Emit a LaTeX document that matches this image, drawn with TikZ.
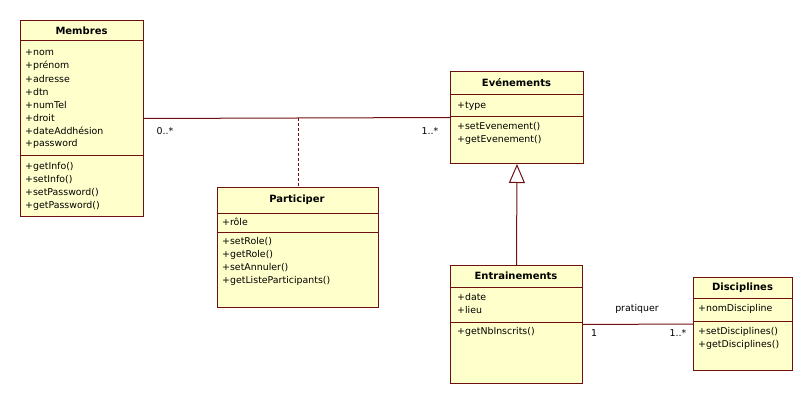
\documentclass[tikz,border=0pt]{standalone}
\usepackage{fontspec}
\setmainfont{DejaVu Sans}
\usepackage{tikz}
\usetikzlibrary{calc,positioning,arrows.meta}
\definecolor{bordeUml}{RGB}{110,16,16}
\definecolor{fondUml}{RGB}{255,255,204}

\tikzset{
  classbox/.style={draw=bordeUml, fill=fondUml, line width=1pt, anchor=north west, inner sep=0pt},
  classline/.style={draw=bordeUml, line width=1pt},
  classtitle/.style={font=\fontsize{10}{12}\selectfont\bfseries, inner sep=0pt},
  member/.style={font=\fontsize{9.4}{11}\selectfont, anchor=west, inner sep=0pt},
  mult/.style={font=\fontsize{9.4}{11}\selectfont, inner sep=0pt},
  assoc/.style={draw=bordeUml, line width=1pt}
}

\begin{document}
\begin{tikzpicture}[x=1pt, y=-1pt]
  \useasboundingbox (0,0) rectangle (812,404);
  % Membres
  \node[classbox, minimum width=123pt, minimum height=196pt] (membres) at (20,20) {};
  \draw[classline] (membres.west |- 0,41) -- (membres.east |- 0,41);
  \draw[classline] (membres.west |- 0,155) -- (membres.east |- 0,155);
  \node[classtitle] (membres-t) at (81.5,30.5) {Membres};
  \foreach \t [count=\i] in {+nom,+prénom,+adresse,+dtn,+numTel,+droit,+dateAddhésion,+password}
    \node[member] (membres-a\i) at (25,40+13*\i) {\t};
  \foreach \t [count=\i] in {+getInfo(),+setInfo(),+setPassword(),+getPassword()}
    \node[member] (membres-m\i) at (25,154+13*\i) {\t};
  % Participer
  \node[classbox, minimum width=161pt, minimum height=120pt] (participer) at (216.5,187) {};
  \draw[classline] (participer.west |- 0,213) -- (participer.east |- 0,213);
  \draw[classline] (participer.west |- 0,232) -- (participer.east |- 0,232);
  \node[classtitle] (participer-t) at (297,200) {Participer};
  \node[member] (participer-a1) at (222,222) {+rôle};
  \foreach \t [count=\i] in {+setRole(),+getRole(),+setAnnuler(),+getListeParticipants()}
    \node[member] (participer-m\i) at (222,229+13*\i) {\t};
  % Evenements
  \node[classbox, minimum width=133pt, minimum height=92pt] (evenements) at (450,71) {};
  \draw[classline] (evenements.west |- 0,95) -- (evenements.east |- 0,95);
  \draw[classline] (evenements.west |- 0,117) -- (evenements.east |- 0,117);
  \node[classtitle] (evenements-t) at (516.5,83) {Evénements};
  \node[member] (evenements-a1) at (457,106) {+type};
  \foreach \t [count=\i] in {+setEvenement(),+getEvenement()}
    \node[member] (evenements-m\i) at (457,114+13*\i) {\t};
  % Entrainements
  \node[classbox, minimum width=132pt, minimum height=118pt] (entrainements) at (450,265) {};
  \draw[classline] (entrainements.west |- 0,287) -- (entrainements.east |- 0,287);
  \draw[classline] (entrainements.west |- 0,322) -- (entrainements.east |- 0,322);
  \node[classtitle] (entrainements-t) at (516,276) {Entrainements};
  \foreach \t [count=\i] in {+date,+lieu}
    \node[member] (entrainements-a\i) at (457,284+13*\i) {\t};
  \node[member] (entrainements-m1) at (457,332) {+getNbInscrits()};
  % Disciplines
  \node[classbox, minimum width=99pt, minimum height=93pt] (disciplines) at (693,277) {};
  \draw[classline] (disciplines.west |- 0,298) -- (disciplines.east |- 0,298);
  \draw[classline] (disciplines.west |- 0,321) -- (disciplines.east |- 0,321);
  \node[classtitle] (disciplines-t) at (742.5,287.5) {Disciplines};
  \node[member] (disciplines-a1) at (698,309) {+nomDiscipline};
  \foreach \t [count=\i] in {+setDisciplines(),+getDisciplines()}
    \node[member] (disciplines-m\i) at (698,319+13*\i) {\t};
  % Associations
  \draw[assoc] (membres.east) -- (evenements.west)
    coordinate[pos=0.506] (classeAssoc);
  \draw[assoc, dash pattern=on 3pt off 2pt] (classeAssoc) -- (classeAssoc |- participer.north);
  \node[mult] (mult-membres) at (165,131) {0..*};
  \node[mult] (mult-evenements) at (430,131) {1..*};
  % Heritage
  \draw[assoc, -{Triangle[open, length=19pt, width=16pt]}] (entrainements.north) -- (evenements.south);
  % pratiquer
  \draw[assoc] (entrainements.east) -- (disciplines.west);
  \node[mult] (pratiquer) at (637,309) {pratiquer};
  \node[mult] (mult-entr) at (594,333) {1};
  \node[mult] (mult-disc) at (678,333) {1..*};
\end{tikzpicture}
\end{document}
